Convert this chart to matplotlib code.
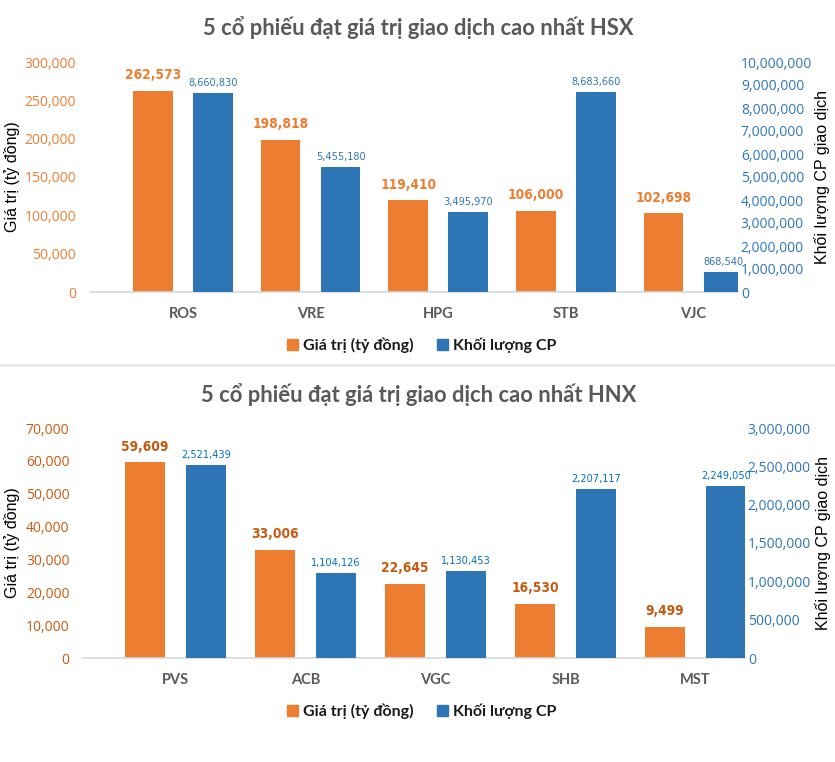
import matplotlib
matplotlib.use("Agg")
import matplotlib.pyplot as plt
from matplotlib.lines import Line2D
from matplotlib import font_manager as fm
import numpy as np

# HSX
hsx_codes = ["ROS", "VRE", "HPG", "STB", "VJC"]
hsx_value = [262573, 198818, 119410, 106000, 102698]
hsx_volume = [8660830, 5455180, 3495970, 8683660, 868540]

# HNX
hnx_codes = ["PVS", "ACB", "VGC", "SHB", "MST"]
hnx_value = [59609, 33006, 22645, 16530, 9499]
hnx_volume = [2521439, 1104126, 1130453, 2207117, 2249050]

ORANGE = "#ED7D31"
BLUE = "#2E75B6"
GREY = "#595959"
MAIN = ["Lato", "DejaVu Sans"]
ARIAL = ["Liberation Sans", "DejaVu Sans"]
TICKF = ["Open Sans", "DejaVu Sans"]

# narrow font for the data labels, if a condensed face is around
_cond = fm.findfont(fm.FontProperties(family="DejaVu Sans", stretch="condensed"))
HAS_COND = "Condensed" in _cond
if HAS_COND:
    NARROW = dict(family="DejaVu Sans", fontstretch="condensed")
    osize, bsize = 9.8, 7.8
else:
    NARROW = dict(family=ARIAL)
    osize, bsize = 9.5, 7.5

fig = plt.figure(figsize=(8.35, 7.62), dpi=100)
fig.patch.set_facecolor("white")
W, H = 835, 762


def draw_panel(rect, title, codes, value, volume, lmax, lstep, rmax, rstep,
               xlim, tick_orange, label_orange, label_blue, title_y, legend_y,
               lab_y, rlab_x, lpad):
    ax = fig.add_axes(rect)
    ax2 = ax.twinx()
    x = np.arange(len(codes))
    w = 0.31
    off = 0.235
    ax.bar(x - off, value, w, color=ORANGE, zorder=2)
    ax2.bar(x + off, volume, w, color=BLUE, zorder=2)

    ax.set_ylim(0, lmax)
    ax2.set_ylim(0, rmax)
    ax.set_xlim(*xlim)
    ax.set_yticks(np.arange(0, lmax + 1, lstep))
    ax2.set_yticks(np.arange(0, rmax + 1, rstep))
    ax.set_yticklabels([f"{v:,}" for v in range(0, lmax + 1, lstep)],
                       color=tick_orange, fontsize=10, family=TICKF)
    ax2.set_yticklabels([f"{v:,}" for v in range(0, rmax + 1, rstep)],
                        color=BLUE, fontsize=10, family=TICKF)
    ax.set_xticks(x)
    ax.set_xticklabels(codes, color=GREY, fontsize=10.5, fontweight="bold", family=MAIN)

    for a in (ax, ax2):
        for s in a.spines.values():
            s.set_visible(False)
        a.tick_params(length=0)
    ax.spines["bottom"].set_visible(True)
    ax.spines["bottom"].set_color("#D9D9D9")
    ax.spines["bottom"].set_linewidth(1.2)
    ax.tick_params(axis="y", pad=lpad)
    ax.tick_params(axis="x", pad=11)
    ax2.tick_params(axis="y", pad=2)

    fig.text(12 / W, 1 - lab_y / H, "Giá trị (tỷ đồng)", rotation=90,
             ha="center", va="center", fontsize=11.5, family=ARIAL)
    fig.text(rlab_x / W, 1 - lab_y / H, "Khối lượng CP giao dịch", rotation=90,
             ha="center", va="center", fontsize=11.5, family=ARIAL)

    for xi, v in zip(x, value):
        ax.annotate(f"{v:,}", (xi - off, v), xytext=(0, 6), textcoords="offset points",
                    ha="center", va="bottom", color=label_orange, fontsize=osize,
                    fontweight="bold", **NARROW)
    for xi, v in zip(x, volume):
        ax2.annotate(f"{v:,}", (xi + off, v), xytext=(0, 3.5), textcoords="offset points",
                     ha="center", va="bottom", color=label_blue, fontsize=bsize,
                     **NARROW)

    fig.text(0.501, 1 - title_y / H, title, ha="center", va="center", color=GREY,
             fontsize=15.8, fontweight="bold", family=MAIN)

    handles = [plt.Rectangle((0, 0), 1, 1, color=ORANGE),
               plt.Rectangle((0, 0), 1, 1, color=BLUE)]
    fig.legend(handles, ["Giá trị (tỷ đồng)", "Khối lượng CP"],
               loc="center", bbox_to_anchor=(0.505, 1 - legend_y / H), ncol=2,
               frameon=False, handlelength=0.7, handleheight=0.7,
               handletextpad=0.3, columnspacing=1.5, labelcolor="#1a1a1a",
               prop={"family": MAIN, "weight": "bold", "size": 11.5})
    return ax


draw_panel([90 / W, 1 - 292 / H, 648 / W, 230 / H],
           "5 cổ phiếu đạt giá trị giao dịch cao nhất HSX",
           hsx_codes, hsx_value, hsx_volume, 300000, 50000, 10000000, 1000000,
           (-0.73, 4.35), ORANGE, ORANGE, BLUE, 28, 345, 177, 822, 10)

draw_panel([82 / W, 1 - 658 / H, 663 / W, 230 / H],
           "5 cổ phiếu đạt giá trị giao dịch cao nhất HNX",
           hnx_codes, hnx_value, hnx_volume, 70000, 10000, 3000000, 500000,
           (-0.72, 4.38), "#C55A11", "#C55A11", "#0070C0", 395, 711, 543, 823, 9)

fig.add_artist(Line2D([0, 1], [1 - 365 / H, 1 - 365 / H], color="#D9D9D9",
                      linewidth=1, transform=fig.transFigure))

fig.savefig("out.png", dpi=100, facecolor="white")
